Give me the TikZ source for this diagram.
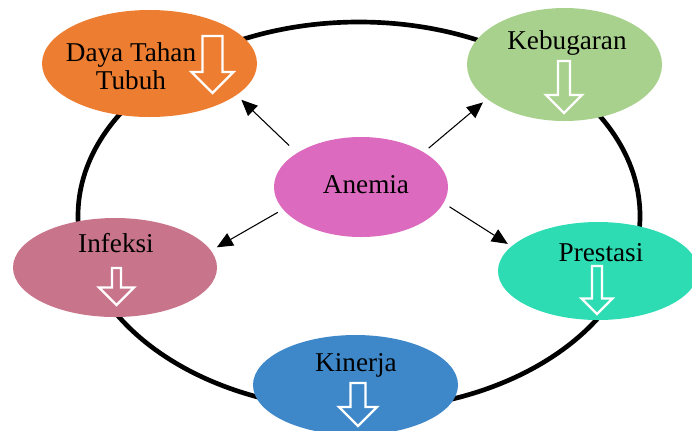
\documentclass[tikz,border=0pt]{standalone}
\usepackage{fontspec}
\setmainfont{Liberation Serif}
\usetikzlibrary{shapes.geometric,arrows.meta}
\definecolor{dayaorange}{HTML}{ED7D31}
\definecolor{bugargreen}{HTML}{A9D18E}
\definecolor{infeksirose}{HTML}{C8758B}
\definecolor{prestasiteal}{HTML}{2EDCB4}
\definecolor{kinerjablue}{HTML}{3E88CA}
\definecolor{anemiapink}{HTML}{DC6ABF}
% hollow downward arrow: x, top, length, shaft, head, fill
\newcommand{\dropmark}[6]{%
  \draw[dropline, fill=#6] (#1-#4/2,#2) -- (#1+#4/2,#2) -- (#1+#4/2,#2+#3-#5/2)
    -- (#1+#5/2,#2+#3-#5/2) -- (#1,#2+#3) -- (#1-#5/2,#2+#3-#5/2)
    -- (#1-#4/2,#2+#3-#5/2) -- cycle;}
\begin{document}
\begin{tikzpicture}[x=0.75pt, y=-0.75pt,
  blob/.style={ellipse, draw=none, inner sep=0pt},
  word/.style={font=\fontsize{20.4}{21}\selectfont, align=center, inner sep=0pt},
  pointer/.style={-{Triangle[length=12pt,width=10.5pt]}, line width=0.8pt},
  ring/.style={line width=3.5pt},
  dropline/.style={draw=white, line width=1.8pt, miter limit=4}]
\useasboundingbox (0,0) rectangle (692,430);

% the big cycle
\draw[ring] (359,216) ellipse [x radius=281, y radius=194];

% ellipses
\node[blob, fill=dayaorange, minimum width=161.25pt, minimum height=80.25pt] (daya) at (149.5,63.5) {};
\node[blob, fill=bugargreen, minimum width=146.25pt, minimum height=84.75pt] (bugar) at (564.5,64.5) {};
\node[blob, fill=infeksirose, minimum width=153pt, minimum height=74.25pt] (infeksi) at (115,267.5) {};
\node[blob, fill=prestasiteal, minimum width=150pt, minimum height=73.5pt] (prestasi) at (598,271) {};
\node[blob, fill=kinerjablue, minimum width=153.75pt, minimum height=75pt] (kinerja) at (355.5,385) {};
\node[blob, fill=anemiapink, minimum width=130.5pt, minimum height=75pt] (anemia) at (361,187) {};

% texts
\node[word] (dayaT) at (131,66) {Daya Tahan\\Tubuh};
\node[word, anchor=base] (bugarT) at (567,49) {Kebugaran};
\node[word, anchor=base] (infeksiT) at (116,252) {Infeksi};
\node[word, anchor=base] (prestasiT) at (601,261) {Prestasi};
\node[word, anchor=base] (kinerjaT) at (356,371) {Kinerja};
\node[word, anchor=base] (anemiaT) at (366,193) {Anemia};

% downward marks
\dropmark{212.5}{36}{57}{20}{42}{dayaorange}
\dropmark{564}{61}{52}{12}{36}{bugargreen}
\dropmark{116.5}{268}{37}{9}{35}{infeksirose}
\dropmark{597}{266}{48}{10}{31}{prestasiteal}
\dropmark{358}{383}{43}{15}{38}{kinerjablue}

% effects of anemia
\draw[pointer, shorten <=8pt, shorten >=5pt] (anemia.152) -- (daya.-20);
\draw[pointer, shorten <=4.7pt, shorten >=3.9pt] (anemia.29) -- (bugar.-156);
\draw[pointer, shorten <=4.4pt, shorten >=4.9pt] (anemia.196) -- (infeksi.10);
\draw[pointer, shorten <=5.2pt, shorten >=3.2pt] (anemia.-11) -- (prestasi.164);
\end{tikzpicture}
\end{document}
